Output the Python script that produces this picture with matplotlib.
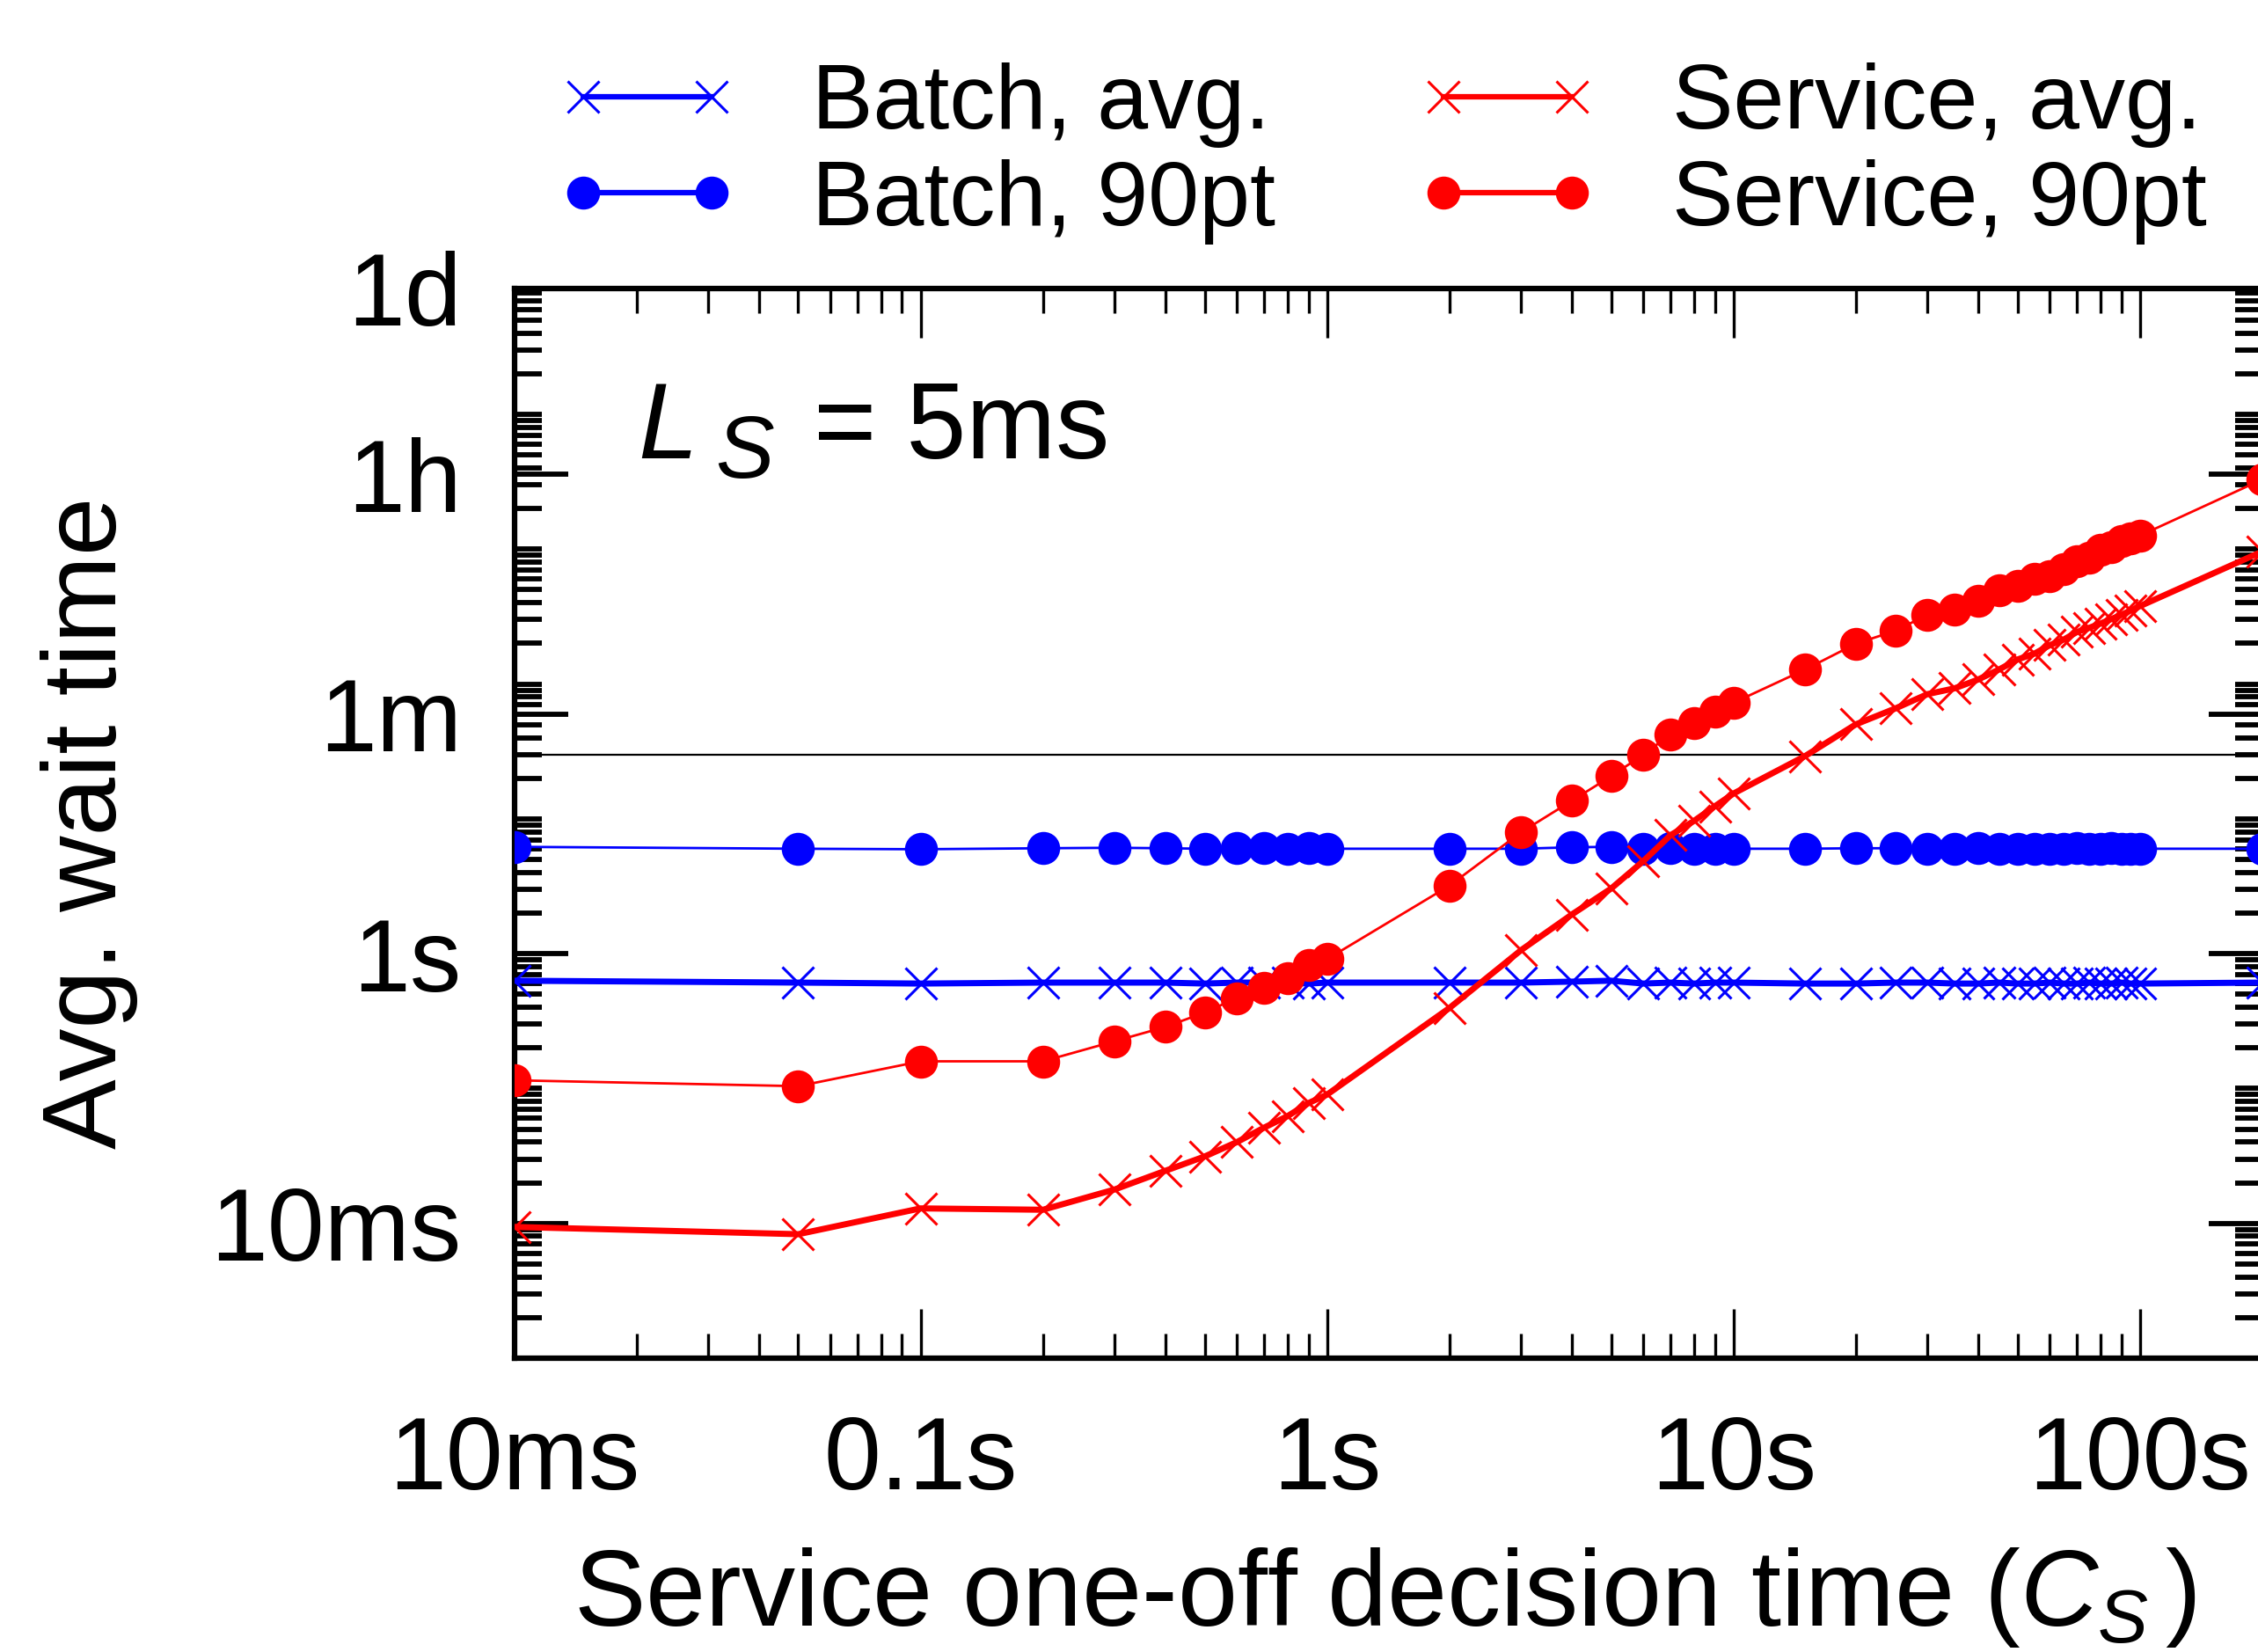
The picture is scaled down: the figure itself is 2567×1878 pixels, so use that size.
#!/usr/bin/env python3
"""Wait time vs. service one-off decision time (L_S = 5ms), gnuplot look."""
import matplotlib
matplotlib.use('Agg')
import matplotlib.pyplot as plt
import matplotlib.ticker as mticker
import numpy as np

BLUE = '#0000ff'
RED = '#ff0000'

plt.rcParams.update({
    'font.family': ['Liberation Sans', 'DejaVu Sans'],
    'mathtext.fontset': 'custom',
    'mathtext.rm': 'Liberation Sans',
    'mathtext.it': 'Liberation Sans:italic',
    'mathtext.bf': 'Liberation Sans:bold',
})

# ---------------------------------------------------------------- data (seconds)
cs = [0.01, 0.05, 0.1, 0.2, 0.3, 0.4, 0.5, 0.6, 0.7, 0.8, 0.9, 1,
      2, 3, 4, 5, 6, 7, 8, 9, 10,
      15, 20, 25, 30, 35, 40, 45, 50, 55, 60, 65, 70, 75, 80, 85, 90, 95, 100,
      200]

batch_avg = [0.63, 0.61, 0.60, 0.61, 0.61, 0.61, 0.60, 0.61, 0.61, 0.61, 0.60, 0.61,
             0.61, 0.61, 0.62, 0.63, 0.60, 0.61, 0.60, 0.61, 0.61,
             0.60, 0.60, 0.61, 0.61, 0.60, 0.60, 0.61, 0.60, 0.60, 0.61, 0.60,
             0.60, 0.61, 0.60, 0.60, 0.61, 0.60, 0.60,
             0.61]
batch_90 = [6.2, 6.0, 5.95, 6.05, 6.1, 6.05, 6.0, 6.05, 6.05, 6.0, 6.05, 6.0,
            6.0, 6.0, 6.15, 6.2, 6.0, 6.05, 6.0, 5.95, 6.0,
            6.0, 6.05, 6.05, 6.0, 6.0, 6.05, 6.0, 6.0, 5.95, 6.0, 6.0,
            6.05, 6.0, 6.0, 6.05, 6.0, 6.0, 6.0,
            6.0]
service_avg = [0.0094, 0.0083, 0.0129, 0.0126, 0.0178, 0.0245, 0.0313, 0.040,
               0.0512, 0.0624, 0.0779, 0.090,
               0.395, 1.06, 1.95, 3.04, 4.86, 7.56, 9.66, 12.4, 15.4,
               29.2, 50.2, 65.8, 84.1, 92.9, 108, 128, 152, 168, 194, 214,
               243, 261, 281, 303, 326, 351, 378,
               962]
service_90 = [0.115, 0.104, 0.159, 0.159, 0.224, 0.286, 0.366, 0.469,
              0.557, 0.662, 0.826, 0.91,
              3.19, 7.94, 13.6, 20.7, 29.9, 42.3, 51.5, 62.7, 72.6,
              128, 199, 248, 326, 359, 417, 495, 533, 603, 633, 716,
              809, 871, 986, 1035, 1143, 1200, 1260,
              3290]

threshold = 30  # horizontal reference line (s)

x_ticks = [0.01, 0.1, 1, 10, 100]
x_labels = ['10ms', '0.1s', '1s', '10s', '100s']
y_ticks = [0.01, 1, 60, 3600, 86400]
y_labels = ['10ms', '1s', '1m', '1h', '1d']

# ---------------------------------------------------------------- figure
fig = plt.figure(figsize=(25.67, 18.78), dpi=100)
ax = fig.add_axes([0.2277, 0.1779, 0.7742, 0.6477])

ax.axhline(threshold, color='black', linewidth=1.6, zorder=1)

ms_x, ms_o = 26, 27
ax.plot(cs, batch_avg, color=BLUE, linewidth=5, marker='x', markersize=ms_x,
        markeredgewidth=2.2, label='Batch, avg.', zorder=3)
ax.plot(cs, batch_90, color=BLUE, linewidth=2, marker='o', markersize=ms_o,
        markeredgewidth=0, label='Batch, 90pt', zorder=3)
ax.plot(cs, service_avg, color=RED, linewidth=5, marker='x', markersize=ms_x,
        markeredgewidth=2.2, label='Service, avg.', zorder=4)
ax.plot(cs, service_90, color=RED, linewidth=2, marker='o', markersize=ms_o,
        markeredgewidth=0, label='Service, 90pt', zorder=4)

ax.set_xscale('log')
ax.set_yscale('log')
ax.set_xlim(0.01, 200)
ax.set_ylim(0.001, 86400)

ax.set_xticks(x_ticks)
ax.set_xticklabels(x_labels)
ax.set_yticks(y_ticks)
ax.set_yticklabels(y_labels)
ax.xaxis.set_minor_locator(mticker.LogLocator(base=10, subs=np.arange(2, 10), numticks=20))
ax.yaxis.set_minor_locator(mticker.LogLocator(base=10, subs=np.arange(1, 10), numticks=20))
ax.xaxis.set_minor_formatter(mticker.NullFormatter())
ax.yaxis.set_minor_formatter(mticker.NullFormatter())

ax.tick_params(axis='both', which='both', direction='in', top=True, right=True,
               labelsize=84, color='black')
ax.tick_params(axis='x', which='major', length=40, width=2.4, pad=46)
ax.tick_params(axis='x', which='minor', length=20, width=2.4)
ax.tick_params(axis='y', which='major', length=44, width=4.2, pad=43)
ax.tick_params(axis='y', which='minor', length=22, width=4.2)
for sp in ax.spines.values():
    sp.set_linewidth(4.5)

ax.set_xlabel(r'Service one-off decision time ($C_S\,$)', fontsize=88)
ax.xaxis.set_label_coords(0.498, -0.175)
ax.set_ylabel('Avg. wait time', fontsize=86)
ax.yaxis.set_label_coords(-0.215, 0.5)

# gnuplot-style "L_S = 5ms" label
ax.text(0.0708, 0.841, 'L', transform=ax.transAxes, fontsize=88,
        style='italic', ha='left', va='baseline')
ax.text(0.1153, 0.823, 'S', transform=ax.transAxes, fontsize=72,
        style='italic', ha='left', va='baseline')
ax.text(0.1713, 0.841, '= 5ms', transform=ax.transAxes, fontsize=88,
        ha='left', va='baseline')

leg = fig.legend(loc='upper left', bbox_to_anchor=(0.246, 0.962), ncol=2,
                 frameon=False, fontsize=75, numpoints=2, handlelength=2.0,
                 handletextpad=0.8, columnspacing=1.53, labelspacing=0.12,
                 borderpad=0, borderaxespad=0)
for h in leg.legend_handles:
    h.set_linewidth(4.5)

fig.savefig('out.png', dpi=100)
plt.close(fig)
